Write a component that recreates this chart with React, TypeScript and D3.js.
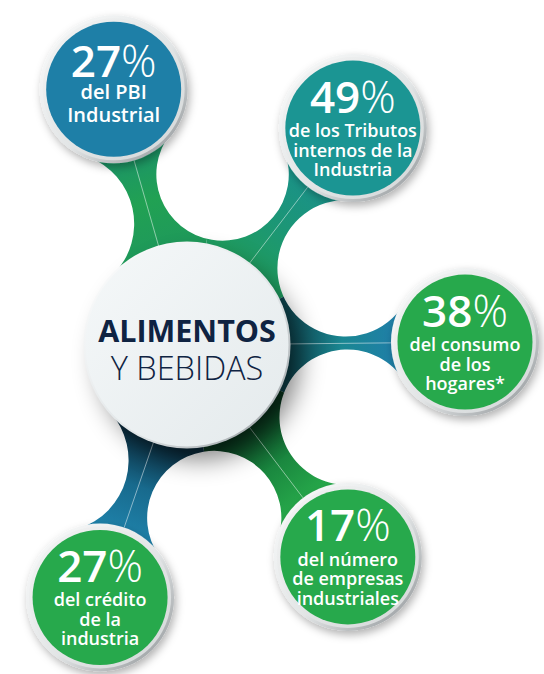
import React from "react";
import * as d3 from "d3";

// figures shown in the five satellites, clockwise from the top-left one
const percents = [27, 49, 38, 17, 27];
const captions = [
  ["del PBI", "Industrial"],
  ["de los Tributos", "internos de la", "Industria"],
  ["del consumo", "de los", "hogares*"],
  ["del número", "de empresas", "industriales"],
  ["del crédito", "de la", "industria"],
];
const discColors = ["#1e7fa7", "#1b9593", "#27a94c", "#27a94c", "#27a94c"];
// arm colours, hub end -> middle -> disc end
const armStops = [
  ["#1f9a5a", "#21a153", "#1c9566"],
  ["#1f9c60", "#1c9676", "#1a9288"],
  ["#0e4650", "#1a8792", "#1f7fa8"],
  ["#0a3a20", "#1a873f", "#26a84a"],
  ["#0b2c3d", "#186a8d", "#1e80a8"],
];
const title = ["ALIMENTOS", "Y BEBIDAS"];

// layout of the arms: angle (deg) and distance from the hub centre
const armAngle = [-106, -52.6, -0.6, 52.8, 109];
const armDist = [266, 273, 278, 266, 267];

const W = 544, H = 674;
const C = { x: 187, y: 345 };
const R0 = 102; // hub disc
const RS = 72; // where arms meet satellite rings
const RL = 72; // left-side cutouts
const MARGIN = 6; // band between inner cutouts and hub disc
const FONT = "'Open Sans', sans-serif";

type P = { x: number; y: number };
const rad = d3.scaleLinear().domain([0, 180]).range([0, Math.PI]);
const dist = (a: P, b: P) => Math.hypot(a.x - b.x, a.y - b.y);
const polar = (o: P, a: number, r: number): P => ({ x: o.x + r * Math.cos(rad(a)), y: o.y + r * Math.sin(rad(a)) });

function circleX(a: P, ra: number, b: P, rb: number): P[] {
  const dx = b.x - a.x, dy = b.y - a.y, d = Math.hypot(dx, dy);
  const l = (ra * ra - rb * rb + d * d) / (2 * d);
  const h = Math.sqrt(Math.max(0, ra * ra - l * l));
  const mx = a.x + (dx * l) / d, my = a.y + (dy * l) / d;
  return [
    { x: mx - (dy * h) / d, y: my + (dx * h) / d },
    { x: mx + (dy * h) / d, y: my - (dx * h) / d },
  ];
}

// circle tangent to both satellites and (almost) to the hub disc
function innerCut(A: P, B: P) {
  const rc = R0 + MARGIN;
  const K = (R: number) => {
    const pts = circleX(A, RS + R, B, RS + R);
    return dist(pts[0], C) < dist(pts[1], C) ? pts[0] : pts[1];
  };
  let lo = Math.max(1, (dist(A, B) - 2 * RS) / 2 + 0.01), hi = 400;
  for (let i = 0; i < 60; i++) {
    const m = (lo + hi) / 2;
    if (dist(K(m), C) - rc - m > 0) lo = m;
    else hi = m;
  }
  return { k: K(lo), r: lo };
}

function leftCut(S: P) {
  const pts = circleX(S, RS + RL, C, R0 + RL);
  return { k: pts[0].x < pts[1].x ? pts[0] : pts[1], r: RL };
}

const tangent = (k: P, o: P, r: number): P => {
  const d = dist(k, o);
  return { x: o.x + ((k.x - o.x) * r) / d, y: o.y + ((k.y - o.y) * r) / d };
};

function arcVia(p: d3.Path, k: P, r: number, from: P, to: P, via: P) {
  const tau = Math.PI * 2;
  const norm = (a: number) => ((a % tau) + tau) % tau;
  const a0 = Math.atan2(from.y - k.y, from.x - k.x);
  const a1 = Math.atan2(to.y - k.y, to.x - k.x);
  const av = Math.atan2(via.y - k.y, via.x - k.x);
  const span = norm(a1 - a0);
  if (norm(av - a0) < span) p.arc(k.x, k.y, r, a0, a0 + span, false);
  else p.arc(k.x, k.y, r, a0, a0 - (tau - span), true);
}

const sats = armAngle.map((a, i) => polar(C, a, armDist[i]));

function hubPath() {
  const p = d3.path();
  const n = sats.length;
  const mid = (s: P) => ({ x: (s.x + C.x) / 2, y: (s.y + C.y) / 2 });
  p.moveTo(C.x, C.y);
  const L0 = leftCut(sats[0]);
  const tc0 = tangent(L0.k, C, R0), ts0 = tangent(L0.k, sats[0], RS);
  p.lineTo(tc0.x, tc0.y);
  arcVia(p, L0.k, L0.r, tc0, ts0, mid(sats[0]));
  p.lineTo(sats[0].x, sats[0].y);
  for (let i = 0; i < n - 1; i++) {
    const cut = innerCut(sats[i], sats[i + 1]);
    const t1 = tangent(cut.k, sats[i], RS), t2 = tangent(cut.k, sats[i + 1], RS);
    p.lineTo(t1.x, t1.y);
    arcVia(p, cut.k, cut.r, t1, t2, C);
    p.lineTo(sats[i + 1].x, sats[i + 1].y);
  }
  const L4 = leftCut(sats[n - 1]);
  const ts4 = tangent(L4.k, sats[n - 1], RS), tc4 = tangent(L4.k, C, R0);
  p.lineTo(ts4.x, ts4.y);
  arcVia(p, L4.k, L4.r, ts4, tc4, mid(sats[n - 1]));
  p.closePath();
  return p.toString();
}

function wedge(i: number) {
  const n = armAngle.length;
  const prev = i === 0 ? armAngle[n - 1] - 360 : armAngle[i - 1];
  const next = i === n - 1 ? armAngle[0] + 360 : armAngle[i + 1];
  const lo = (prev + armAngle[i]) / 2, hi = (next + armAngle[i]) / 2;
  const pts = [C, polar(C, lo, 700), polar(C, armAngle[i], 700), polar(C, hi, 700)];
  return "M" + pts.map((q) => `${q.x},${q.y}`).join("L") + "Z";
}

export default function App() {
  const hub = hubPath();
  return (
    <svg width={W} height={H} style={{ position: "absolute", left: 0, top: 0, display: "block", background: "#fff" }}>
      <defs>
        <clipPath id="hubClip">
          <path d={hub} />
        </clipPath>
        {armAngle.map((a, i) => {
          const p0 = polar(C, a, R0), p1 = polar(sats[i], a + 180, 70);
          return (
            <linearGradient key={i} id={`arm${i}`} gradientUnits="userSpaceOnUse" x1={p0.x} y1={p0.y} x2={p1.x} y2={p1.y}>
              {armStops[i].map((c, j) => (
                <stop key={j} offset={j / (armStops[i].length - 1)} stopColor={c} />
              ))}
            </linearGradient>
          );
        })}
        <linearGradient id="ringOuter" x1="0" y1="0" x2="1" y2="1">
          <stop offset="0" stopColor="#fbfcfc" />
          <stop offset="0.55" stopColor="#e2e5e6" />
          <stop offset="1" stopColor="#8a8f92" />
        </linearGradient>
        <linearGradient id="ringInner" x1="0" y1="0" x2="1" y2="1">
          <stop offset="0" stopColor="#f4f5f5" />
          <stop offset="1" stopColor="#d3d7d8" />
        </linearGradient>
        <linearGradient id="hubRim" x1="0" y1="0" x2="1" y2="1">
          <stop offset="0" stopColor="#ffffff" />
          <stop offset="0.6" stopColor="#dfe4e6" />
          <stop offset="1" stopColor="#8b9195" />
        </linearGradient>
        <linearGradient id="hubFace" x1="0" y1="0" x2="1" y2="1">
          <stop offset="0" stopColor="#f5f8f9" />
          <stop offset="1" stopColor="#e4eaec" />
        </linearGradient>
        <filter id="blur" x="-50%" y="-50%" width="200%" height="200%">
          <feGaussianBlur stdDeviation="13" />
        </filter>
        <filter id="satShadow" x="-30%" y="-30%" width="160%" height="160%">
          <feDropShadow dx="2" dy="4" stdDeviation="4" floodColor="#000" floodOpacity="0.3" />
        </filter>
      </defs>

      <g clipPath="url(#hubClip)">
        {armAngle.map((_, i) => (
          <path key={i} d={wedge(i)} fill={`url(#arm${i})`} />
        ))}
      </g>

      {armAngle.map((a, i) => {
        const p0 = polar(C, a, R0), p1 = polar(sats[i], a + 180, 74);
        return <line key={i} x1={p0.x} y1={p0.y} x2={p1.x} y2={p1.y} stroke="#fff" strokeOpacity={0.55} strokeWidth={0.9} />;
      })}

      <circle cx={C.x + 12} cy={C.y + 14} r={100} fill="#000" opacity={0.5} filter="url(#blur)" />

      {sats.map((s, i) => {
        const lines = captions[i];
        const two = lines.length === 2;
        const pctY = s.y - (two ? 12 : 15.5);
        const firstY = pctY + (two ? 22 : 24.5);
        const lh = two ? 23 : 19.5;
        return (
          <g key={i}>
            <circle cx={s.x} cy={s.y} r={74} fill="url(#ringOuter)" filter="url(#satShadow)" />
            <circle cx={s.x} cy={s.y} r={71} fill="url(#ringInner)" />
            <circle cx={s.x} cy={s.y} r={67.5} fill={discColors[i]} />
            <text x={s.x} y={pctY} textAnchor="middle" fill="#fff" fontFamily={FONT} fontSize={44}>
              <tspan fontWeight={600}>{percents[i]}</tspan>
              <tspan fontWeight={300}>%</tspan>
            </text>
            {lines.map((t, j) => (
              <text key={j} x={s.x} y={firstY + j * lh} textAnchor="middle" fill="#fff" fontFamily={FONT} fontWeight={600} fontSize={two ? 20 : 18}>
                {t}
              </text>
            ))}
          </g>
        );
      })}

      <circle cx={C.x} cy={C.y} r={103.5} fill="url(#hubRim)" />
      <circle cx={C.x} cy={C.y} r={101.5} fill="url(#hubFace)" />
      <text x={C.x} y={342} textAnchor="middle" fill="#0f2342" fontFamily={FONT} fontWeight={700} fontSize={30.5}>
        {title[0]}
      </text>
      <text x={C.x} y={380} textAnchor="middle" fill="#0f2342" fontFamily={FONT} fontWeight={300} fontSize={32.5}>
        {title[1]}
      </text>
    </svg>
  );
}
